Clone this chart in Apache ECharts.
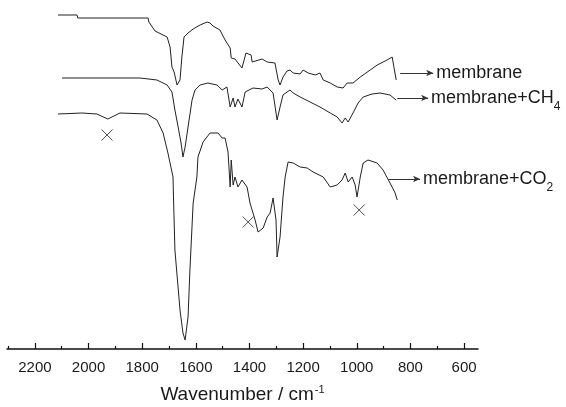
<!DOCTYPE html>
<html lang="en">
<head>
    <meta charset="UTF-8">
    <title>IR spectra</title>
    <style type="text/css">
        html, body { margin: 0; padding: 0; background: #fff; }
        #main { width: 566px; height: 407px; }
    </style>
    <script src="https://cdn.jsdelivr.net/npm/echarts@6.0.0/dist/echarts.min.js"></script>
</head>
<body>
    <div id="main"></div>
    <script type="text/javascript">
        // [wavenumber, intensity (a.u., offset)]
        var membrane = [
            [2114, 334], [2043, 334], [2040, 331], [1778, 331], [1775, 327], [1752, 318],
            [1722, 314], [1707, 312], [1696, 302], [1689, 282], [1681, 277], [1670, 264],
            [1666, 264], [1659, 269], [1652, 292], [1644, 312], [1629, 316], [1610, 320],
            [1584, 324], [1558, 327], [1547, 326], [1536, 323], [1510, 319], [1491, 309],
            [1472, 301], [1468, 291], [1454, 290], [1428, 281], [1413, 296], [1394, 294],
            [1390, 287], [1353, 290], [1334, 287], [1305, 286], [1293, 269], [1286, 264],
            [1275, 272], [1260, 278], [1249, 279], [1237, 276], [1211, 275], [1200, 279],
            [1181, 276], [1155, 274], [1137, 276], [1125, 269], [1099, 266], [1073, 262],
            [1051, 261], [1036, 266], [1014, 266], [987, 272], [950, 279], [924, 284],
            [887, 289], [868, 292], [861, 291], [853, 269]
        ];
        var membraneCH4 = [
            [2099, 271], [1808, 271], [1745, 269], [1707, 264], [1689, 257], [1678, 239],
            [1666, 222], [1655, 206], [1648, 192], [1640, 202], [1629, 222], [1614, 249],
            [1603, 259], [1584, 264], [1555, 266], [1521, 264], [1502, 259], [1484, 262],
            [1472, 242], [1461, 251], [1454, 242], [1443, 250], [1428, 242], [1416, 257],
            [1387, 261], [1353, 260], [1334, 262], [1312, 256], [1297, 229], [1286, 242],
            [1275, 254], [1249, 259], [1237, 256], [1211, 252], [1174, 247], [1137, 242],
            [1099, 236], [1073, 232], [1055, 226], [1043, 231], [1032, 227], [1014, 236],
            [995, 246], [976, 252], [943, 255], [913, 256], [876, 254], [853, 249]
        ];
        var membraneCO2 = [
            [2114, 235], [2025, 236], [1969, 235], [1928, 230], [1883, 236], [1782, 235],
            [1745, 229], [1722, 216], [1704, 196], [1685, 172], [1684, 159], [1678, 99],
            [1659, 39], [1648, 16], [1640, 9], [1629, 32], [1622, 79], [1610, 146],
            [1596, 172], [1592, 192], [1573, 207], [1547, 216], [1517, 216], [1502, 211],
            [1491, 211], [1480, 197], [1472, 162], [1468, 189], [1461, 164], [1454, 172],
            [1443, 162], [1428, 169], [1409, 162], [1398, 146], [1379, 129], [1368, 117],
            [1349, 121], [1334, 132], [1323, 136], [1312, 151], [1301, 129], [1297, 92],
            [1286, 112], [1275, 152], [1267, 172], [1256, 187], [1237, 186], [1211, 182],
            [1185, 181], [1163, 177], [1125, 172], [1099, 162], [1073, 164], [1055, 169],
            [1043, 176], [1032, 167], [1017, 172], [1006, 164], [999, 152], [987, 172],
            [976, 186], [958, 189], [924, 186], [902, 179], [876, 166], [857, 156], [849, 149]
        ];
        // positions of the "x" marks
        var crossMarks = [[1931, 214], [1405, 127], [991, 139]];
        // label arrows: [from, to] in data units
        var arrowMembrane = [[838, 276], [715, 276]];
        var arrowCH4 = [[849, 251], [734, 251]];
        var arrowCO2 = [[883, 170], [764, 170]];

        var majorTicks = [600, 800, 1000, 1200, 1400, 1600, 1800, 2000, 2200];
        var minorTicks = [700, 900, 1100, 1300, 1500, 1700, 1900, 2100, 2300];

        var FONT = 'Liberation Sans, Arial, sans-serif';
        var INK = '#1a1a1a';

        function arrowLine(pts, text) {
            return {
                silent: true,
                symbol: ['none', 'arrow'],
                symbolSize: [5, 7],
                lineStyle: { color: '#333', width: 1, type: 'solid' },
                label: {
                    show: true,
                    position: 'end',
                    distance: 3,
                    formatter: text,
                    color: INK,
                    fontSize: 18,
                    fontFamily: FONT,
                    rich: {
                        sub: { fontSize: 12, fontFamily: FONT, color: INK, padding: [18, 0, 0, 0] }
                    }
                },
                data: [[{ coord: pts[0] }, { coord: pts[1] }]]
            };
        }

        var myChart = echarts.init(document.getElementById('main'));
        var option = {
            animation: false,
            backgroundColor: '#fff',
            grid: {
                left: 7, right: 88, top: 0, bottom: 58,
                containLabel: false, outerBoundsMode: 'none'
            },
            xAxis: [
                {
                    type: 'value',
                    inverse: true,
                    min: 548,
                    max: 2304,
                    name: 'Wavenumber / cm{sup|-1}',
                    nameLocation: 'middle',
                    nameGap: 35,
                    nameTextStyle: {
                        fontSize: 19, fontFamily: FONT, color: INK,
                        rich: { sup: { fontSize: 11, fontFamily: FONT, color: INK, verticalAlign: 'top', padding: [0, 0, 10, 1] } }
                    },
                    axisLine: { lineStyle: { color: '#111', width: 1.5 } },
                    axisTick: { inside: true, length: 6, customValues: majorTicks, lineStyle: { color: '#111', width: 1.2 } },
                    axisLabel: {
                        customValues: majorTicks, fontSize: 15, fontFamily: FONT, color: INK, margin: 11,
                        formatter: function (v) { return String(v); }
                    },
                    splitLine: { show: false }
                },
                {
                    type: 'value',
                    inverse: true,
                    min: 548,
                    max: 2304,
                    position: 'bottom',
                    axisLine: { show: false },
                    axisTick: { inside: true, length: 3, customValues: minorTicks, lineStyle: { color: '#111', width: 1.2 } },
                    axisLabel: { show: false },
                    splitLine: { show: false }
                }
            ],
            yAxis: {
                type: 'value',
                min: 0,
                max: 349,
                show: false
            },
            series: [
                {
                    name: 'membrane',
                    type: 'line',
                    data: membrane,
                    symbol: 'none',
                    lineStyle: { color: '#222', width: 1 },
                    markLine: arrowLine(arrowMembrane, 'membrane')
                },
                {
                    name: 'membrane+CH4',
                    type: 'line',
                    data: membraneCH4,
                    symbol: 'none',
                    lineStyle: { color: '#222', width: 1 },
                    markLine: arrowLine(arrowCH4, 'membrane+CH{sub|4}')
                },
                {
                    name: 'membrane+CO2',
                    type: 'line',
                    data: membraneCO2,
                    symbol: 'none',
                    lineStyle: { color: '#222', width: 1 },
                    markLine: arrowLine(arrowCO2, 'membrane+CO{sub|2}')
                },
                {
                    name: 'marks',
                    type: 'scatter',
                    data: crossMarks,
                    symbol: 'path://M0,0L10,10M10,0L0,10',
                    symbolSize: 11,
                    silent: true,
                    itemStyle: { color: 'rgba(0,0,0,0)', borderColor: '#222', borderWidth: 1 }
                }
            ]
        };
        myChart.setOption(option);
    </script>
</body>
</html>
